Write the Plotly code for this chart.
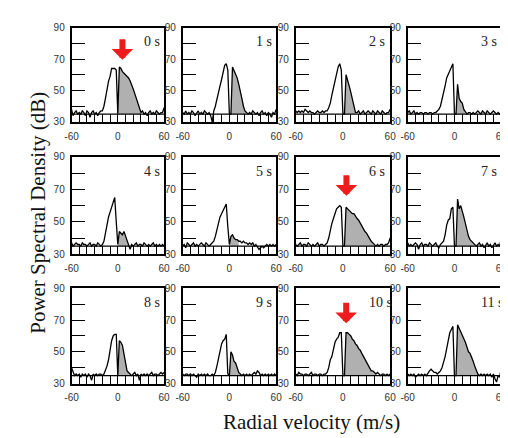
import plotly.graph_objects as go

# Radial velocity grid (m/s)
velocity = list(range(-60, 62, 2))

panel_labels = ["0 s", "1 s", "2 s", "3 s", "4 s", "5 s", "6 s", "7 s", "8 s", "9 s", "10 s", "11 s"]

psd_0s = [38, 34, 36, 37, 35, 36, 35, 37, 36, 34, 37, 36, 33, 36, 37, 35, 36, 34, 36, 37,
          37, 40, 45, 51, 56, 59, 64, 64, 64, 63, 35, 65, 64, 62, 61, 60, 59, 58, 56, 54,
          51, 48, 45, 41, 38, 36, 37, 35, 36, 34, 36, 37, 35, 36, 35, 37, 36, 35, 36, 36, 39]
psd_1s = [36, 35, 37, 35, 36, 35, 37, 36, 34, 36, 37, 35, 36, 35, 37, 36, 35, 36, 34, 30,
          37, 40, 45, 50, 53, 57, 62, 66, 67, 63, 35, 35, 65, 63, 60, 58, 54, 50, 45, 40,
          37, 36, 35, 36, 35, 37, 36, 35, 36, 34, 36, 37, 35, 36, 34, 36, 35, 33, 36, 35, 38]
psd_2s = [37, 36, 37, 36, 37, 36, 38, 37, 36, 37, 36, 36, 35, 36, 37, 36, 36, 37, 36, 37,
          37, 39, 42, 47, 52, 57, 62, 65, 67, 63, 35, 35, 60, 57, 53, 49, 45, 40, 36, 36,
          37, 35, 36, 37, 35, 36, 37, 36, 35, 37, 36, 35, 37, 36, 35, 37, 36, 35, 36, 36, 38]
psd_3s = [36, 37, 35, 36, 37, 35, 36, 35, 36, 36, 35, 36, 36, 35, 36, 36, 35, 36, 36, 37,
          38, 40, 44, 49, 53, 58, 60, 63, 64, 67, 35, 35, 54, 45, 43, 42, 38, 36, 35, 36,
          36, 35, 36, 35, 36, 37, 36, 35, 37, 36, 35, 37, 36, 35, 36, 37, 36, 35, 36, 35, 36]
psd_4s = [37, 35, 36, 37, 36, 36, 35, 37, 36, 36, 35, 36, 37, 35, 36, 36, 35, 37, 36, 35,
          36, 38, 43, 49, 53, 56, 59, 62, 65, 50, 36, 44, 43, 42, 44, 41, 38, 35, 33, 36,
          35, 36, 37, 35, 36, 36, 35, 37, 36, 35, 36, 35, 36, 37, 35, 36, 35, 36, 35, 36, 35]
psd_5s = [35, 36, 34, 37, 36, 35, 36, 37, 35, 36, 35, 36, 37, 36, 35, 37, 36, 35, 36, 37,
          38, 41, 45, 50, 53, 55, 57, 59, 61, 47, 36, 41, 42, 40, 39, 39, 38, 38, 37, 38,
          37, 37, 36, 37, 36, 37, 35, 36, 34, 33, 34, 35, 34, 35, 36, 35, 36, 35, 36, 35, 36]
psd_6s = [36, 35, 36, 37, 35, 36, 36, 35, 37, 36, 35, 36, 35, 36, 37, 35, 36, 36, 35, 36,
          37, 40, 45, 49, 52, 55, 58, 59, 60, 59, 35, 35, 59, 58, 57, 56, 55, 55, 53, 52,
          51, 49, 48, 46, 44, 43, 41, 40, 38, 37, 36, 35, 36, 35, 36, 36, 35, 36, 36, 37, 40]
psd_7s = [37, 35, 36, 35, 36, 37, 36, 33, 36, 37, 35, 36, 36, 35, 37, 36, 35, 36, 37, 35,
          34, 36, 37, 38, 42, 48, 51, 52, 58, 59, 35, 35, 64, 58, 60, 57, 53, 49, 45, 41,
          39, 38, 37, 36, 35, 36, 37, 35, 36, 34, 36, 37, 35, 36, 34, 36, 37, 35, 36, 35, 40]
psd_8s = [40, 37, 35, 36, 35, 36, 34, 36, 35, 36, 34, 36, 35, 32, 36, 35, 36, 35, 36, 36,
          35, 36, 38, 41, 45, 52, 57, 60, 61, 61, 35, 57, 56, 54, 49, 42, 38, 37, 36, 35,
          36, 37, 35, 36, 32, 36, 35, 36, 35, 36, 35, 36, 37, 35, 36, 36, 35, 36, 37, 36, 37]
psd_9s = [36, 35, 36, 36, 35, 36, 35, 36, 35, 34, 36, 35, 36, 35, 36, 35, 36, 35, 35, 36,
          35, 37, 41, 46, 52, 55, 57, 58, 61, 36, 35, 50, 48, 44, 43, 40, 37, 36, 35, 36,
          35, 36, 35, 36, 35, 36, 37, 36, 38, 37, 35, 36, 35, 36, 35, 36, 35, 36, 35, 36, 35]
psd_10s = [36, 35, 37, 36, 36, 35, 36, 36, 35, 36, 37, 35, 36, 36, 35, 36, 36, 35, 36, 36,
           37, 40, 45, 47, 52, 56, 58, 59, 62, 62, 35, 35, 62, 62, 61, 60, 58, 57, 55, 54,
           52, 51, 49, 47, 45, 43, 41, 40, 38, 38, 37, 36, 37, 36, 35, 36, 36, 35, 36, 35, 36]
psd_11s = [36, 35, 36, 35, 36, 34, 35, 36, 35, 36, 35, 36, 35, 37, 38, 39, 38, 37, 37, 36,
           37, 38, 40, 43, 47, 52, 57, 62, 64, 66, 35, 35, 67, 65, 63, 60, 58, 56, 53, 50,
           49, 47, 44, 41, 38, 36, 35, 36, 35, 36, 35, 36, 35, 36, 34, 36, 33, 31, 35, 34, 40]

spectra = [psd_0s, psd_1s, psd_2s, psd_3s, psd_4s, psd_5s,
           psd_6s, psd_7s, psd_8s, psd_9s, psd_10s, psd_11s]

# Positive-velocity (shaded) part of each spectrum: start/end velocity
shade_start = [0, 2, 2, 2, 0, 0, 2, 2, 0, 0, 2, 2]
shade_end = [30, 22, 16, 14, 14, 12, 40, 26, 16, 14, 42, 30]

# Red arrows: panel index, velocity, tip level (dB)
arrow_panels = [0, 6, 10]
arrow_velocity = [6, 4.5, 4.2]
arrow_tip_db = [69.5, 66, 68]

noise_level = 35

# Layout (pixels on the 508x438 canvas)
W, H = 508, 438
col_px = [(58, 153), (172, 268), (288, 385), (403, 499)]
row_px = [(14, 111), (147, 247), (282, 380)]

fig = go.Figure()
layout_axes = {}
shapes = []
annotations = []

for i, spec in enumerate(spectra):
    n = i + 1
    r, c = divmod(i, 4)
    xs = "" if n == 1 else str(n)
    xref, yref = "x" + xs, "y" + xs

    # shaded part
    sx = [v for v in velocity if shade_start[i] <= v <= shade_end[i]]
    sy = [spec[velocity.index(v)] for v in sx]
    fig.add_trace(go.Scatter(
        x=sx + [sx[-1], sx[0]], y=sy + [noise_level, noise_level],
        fill="toself", fillcolor="#b0b0b0", line=dict(width=0),
        mode="lines", xaxis=xref, yaxis=yref, showlegend=False, hoverinfo="skip"))
    # spectrum line
    fig.add_trace(go.Scatter(
        x=velocity, y=spec, mode="lines",
        line=dict(color="black", width=1.3),
        xaxis=xref, yaxis=yref, showlegend=False))

    x0, x1 = col_px[c]
    y0, y1 = row_px[r]
    layout_axes["xaxis" + xs] = dict(
        domain=[x0 / W, x1 / W], anchor=yref, range=[-60, 60],
        tickvals=list(range(-60, 61, 10)),
        ticktext=["-60", "", "", "", "", "", "0", "", "", "", "", "", "60"],
        ticks="inside", ticklen=8, tickwidth=1.3, tickcolor="black",
        showline=True, linecolor="black", linewidth=1.6, mirror=True,
        showgrid=False, zeroline=False, ticklabelstandoff=4,
        tickfont=dict(family="Arial, Liberation Sans", size=10, color="#333"))
    layout_axes["yaxis" + xs] = dict(
        domain=[1 - y1 / H, 1 - y0 / H], anchor=xref, range=[30, 90],
        tickvals=list(range(30, 91, 10)),
        ticktext=["30", "", "50", "", "70", "", "90"],
        ticks="inside", ticklen=14, tickwidth=1.3, tickcolor="black",
        showline=True, linecolor="black", linewidth=1.6, mirror=True,
        showgrid=False, zeroline=False, ticklabelstandoff=3,
        tickfont=dict(family="Arial, Liberation Sans", size=10, color="#333"))

    shapes.append(dict(type="line", xref=xref + " domain", yref=yref,
                       x0=0, x1=1, y0=noise_level, y1=noise_level,
                       line=dict(color="black", width=1.4)))
    annotations.append(dict(
        text=panel_labels[i], xref=xref + " domain", yref=yref + " domain",
        x=0.76, y=0.85, xanchor="left", yanchor="middle", showarrow=False,
        font=dict(family="Liberation Serif, Times New Roman", size=14, color="#222")))

for p, v, t in zip(arrow_panels, arrow_velocity, arrow_tip_db):
    n = p + 1
    xs = "" if n == 1 else str(n)
    annotations.append(dict(
        text="", x=v, y=t, xref="x" + xs, yref="y" + xs,
        showarrow=True, ax=0, ay=-22, arrowhead=1, arrowwidth=6,
        arrowsize=0.6, arrowcolor="#ee1c1c", standoff=0))

annotations.append(dict(
    text="Power Spectral Density (dB)", xref="paper", yref="paper",
    x=24 / W, y=1 - 204 / H, textangle=-90, showarrow=False,
    xanchor="center", yanchor="middle",
    font=dict(family="Liberation Serif, Times New Roman", size=21, color="#111")))
annotations.append(dict(
    text="Radial velocity (m/s)", xref="paper", yref="paper",
    x=304 / W, y=1 - 420 / H, showarrow=False,
    xanchor="center", yanchor="middle",
    font=dict(family="Liberation Serif, Times New Roman", size=21, color="#111")))

fig.update_layout(
    width=W, height=H, autosize=False,
    margin=dict(l=0, r=0, t=0, b=0),
    paper_bgcolor="white", plot_bgcolor="white",
    shapes=shapes, annotations=annotations, **layout_axes)

fig.write_html("out.html")
